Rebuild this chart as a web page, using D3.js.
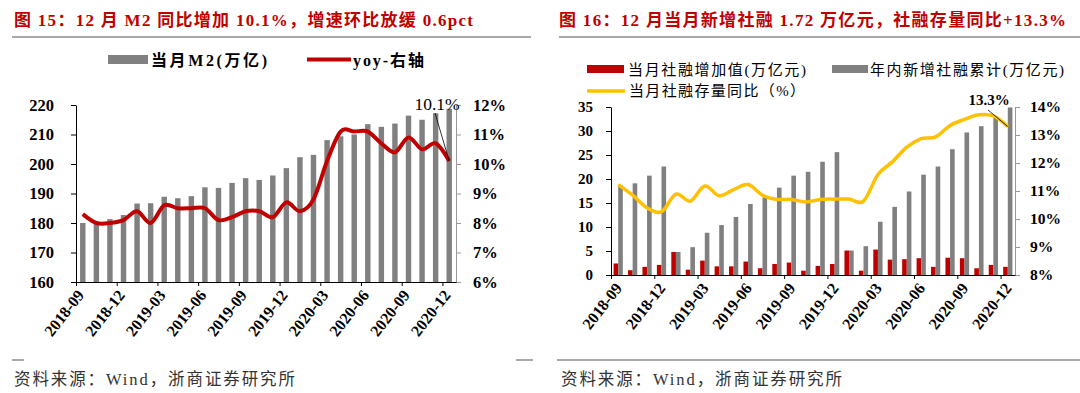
<!DOCTYPE html>
<html lang="zh">
<head>
<meta charset="utf-8">
<title>M2 与社融</title>
<script src="https://cdn.jsdelivr.net/npm/d3@7"></script>
<style>
body { margin: 0; background: #fff; }
svg { display: block; }
.num { font-family: "Liberation Serif", "Noto Sans CJK SC", serif; font-weight: bold; fill: #000; }
.cjk { font-family: "Liberation Serif", "Noto Sans CJK SC", serif; }
</style>
</head>
<body>
<script>
// months on both x axes
var months = ["2018-09","2018-10","2018-11","2018-12","2019-01","2019-02","2019-03","2019-04",
  "2019-05","2019-06","2019-07","2019-08","2019-09","2019-10","2019-11","2019-12",
  "2020-01","2020-02","2020-03","2020-04","2020-05","2020-06","2020-07","2020-08",
  "2020-09","2020-10","2020-11","2020-12"];

// left chart: M2 level (万亿) and yoy (%)
var m2 = [180.0,179.6,181.3,182.7,186.6,186.7,188.9,188.4,189.1,192.1,191.9,193.6,195.2,194.6,
  196.1,198.6,202.3,203.1,208.1,209.4,210.0,213.5,212.6,213.7,216.4,215.0,217.2,218.7];
var m2Yoy = [8.3,8.0,8.0,8.1,8.4,8.0,8.6,8.5,8.5,8.5,8.1,8.2,8.4,8.4,
  8.2,8.7,8.4,8.8,10.1,11.1,11.1,11.1,10.7,10.4,10.9,10.5,10.7,10.1];
var m2Ticks = [160,170,180,190,200,210,220];
var m2YoyTicks = [6,7,8,9,10,11,12];

// right chart: monthly TSF, year-to-date TSF (万亿元), stock yoy (%)
var tsfMonth = [2.4,1.0,1.7,2.1,4.8,1.1,3.0,1.8,1.8,2.8,1.4,2.3,2.6,0.9,
  1.9,2.3,5.1,0.9,5.3,3.2,3.3,3.5,1.7,3.6,3.5,1.4,2.1,1.7];
var tsfCum = [18.7,19.1,20.7,22.6,4.8,5.8,8.8,10.4,12.1,14.8,16.2,18.2,20.7,21.5,
  23.6,25.6,5.1,6.0,11.1,14.2,17.4,20.9,22.6,26.2,29.7,31.0,33.0,34.9];
var tsfYoy = [11.23,10.85,10.4,10.26,10.89,10.64,11.18,10.83,11.05,11.23,10.85,10.7,10.7,10.61,
  10.7,10.71,10.71,10.64,11.59,12.04,12.57,12.87,12.93,13.34,13.56,13.72,13.68,13.3];
var tsfTicks = [0,5,10,15,20,25,30,35];
var tsfYoyTicks = [8,9,10,11,12,13,14];

var red = "#c00000", gray = "#808080", yellow = "#ffc000";

var svg = d3.select("body").append("svg")
  .attr("width", 1080).attr("height", 393);
svg.append("rect").attr("width", 1080).attr("height", 393).attr("fill", "#fff");

// text helper, width forced to match the report layout
function label(x, y, size, str, len, bold, color) {
  var t = svg.append("text").attr("class", "cjk").attr("x", x).attr("y", y)
    .attr("font-size", size).attr("fill", color || "#000").text(str);
  if (bold) t.attr("font-weight", "bold");
  if (len) t.attr("textLength", len).attr("lengthAdjust", "spacing");
  return t;
}

// ---------- titles, rules, footers ----------
label(14, 26, 17, "图 15：12 月 M2 同比增加 10.1%，增速环比放缓 0.6pct", 459, true, red);
label(559, 26, 17, "图 16：12 月当月新增社融 1.72 万亿元，社融存量同比+13.3%", 507, true, red);

svg.append("line").attr("x1", 12).attr("x2", 531).attr("y1", 37).attr("y2", 37)
  .attr("stroke", "#555").attr("stroke-width", 1);
svg.append("line").attr("x1", 559).attr("x2", 1080).attr("y1", 37).attr("y2", 37)
  .attr("stroke", "#555").attr("stroke-width", 1);

svg.append("line").attr("x1", 12).attr("x2", 24).attr("y1", 360).attr("y2", 360).attr("stroke", "#555");
svg.append("line").attr("x1", 516).attr("x2", 533).attr("y1", 360).attr("y2", 360).attr("stroke", "#555");
svg.append("line").attr("x1", 557).attr("x2", 1080).attr("y1", 360).attr("y2", 360).attr("stroke", "#555");

label(14, 385, 16.5, "资料来源：Wind，浙商证券研究所", 281, false, "#333");
label(561, 385, 16.5, "资料来源：Wind，浙商证券研究所", 281, false, "#333");

function styleAxis(g, color) {
  g.select(".domain").attr("stroke", color);
  g.selectAll(".tick line").attr("stroke", color);
  g.selectAll(".tick text").attr("class", "num").attr("fill", "#000");
}

function xLabels(g, dx) {
  g.selectAll(".tick text")
    .attr("class", "num").attr("font-size", 16)
    .attr("text-anchor", "end")
    .attr("transform", "translate(" + dx + ",10) rotate(-52)")
    .attr("dy", "0.35em").attr("y", 0).attr("x", 0);
}

// ---------- left chart ----------
var L = {x0: 76, x1: 456, top: 105, bottom: 282};

var xL = d3.scaleBand().domain(months).range([L.x0, L.x1]).paddingInner(0.6).paddingOuter(0.3);
var xLTick = d3.scaleLinear().domain([0, months.length]).range([L.x0, L.x1]);
var yL = d3.scaleLinear().domain([160, 220]).range([L.bottom, L.top]);
var yL2 = d3.scaleLinear().domain([6, 12]).range([L.bottom, L.top]);

svg.append("g").selectAll("rect").data(m2).enter().append("rect")
  .attr("x", function(d, i) { return xL(months[i]); })
  .attr("y", function(d) { return yL(d); })
  .attr("width", xL.bandwidth())
  .attr("height", function(d) { return L.bottom - yL(d); })
  .attr("fill", gray);

var gyL = svg.append("g").attr("transform", "translate(" + L.x0 + ",0)")
  .call(d3.axisLeft(yL).tickValues(m2Ticks).tickSize(5).tickPadding(17).tickSizeOuter(0));
styleAxis(gyL, "#000");
gyL.selectAll(".tick text").attr("font-size", 16.5);

var gyL2 = svg.append("g").attr("transform", "translate(" + L.x1 + ",0)")
  .call(d3.axisRight(yL2).tickValues(m2YoyTicks).tickFormat(function(d) { return d + "%"; })
    .tickSize(5).tickPadding(12).tickSizeOuter(0));
styleAxis(gyL2, "#999");
gyL2.selectAll(".tick text").attr("font-size", 16.5);

var gxL = svg.append("g").attr("transform", "translate(0," + L.bottom + ")")
  .call(d3.axisBottom(xLTick).tickValues(d3.range(0, months.length, 3))
    .tickFormat(function(i) { return months[i]; }).tickSize(4).tickPadding(2).tickSizeOuter(0));
styleAxis(gxL, "#000");
xLabels(gxL, 4);

var lineL = d3.line()
  .x(function(d, i) { return xL(months[i]) + xL.bandwidth() / 2; })
  .y(function(d) { return yL2(d); })
  .curve(d3.curveCatmullRom.alpha(0));
svg.append("path").datum(m2Yoy).attr("d", lineL)
  .attr("fill", "none").attr("stroke", red).attr("stroke-width", 4).attr("stroke-linejoin", "round");

// annotation for last point
var lastL = m2Yoy.length - 1;
svg.append("line")
  .attr("x1", 435).attr("y1", 113)
  .attr("x2", xL(months[lastL]) + xL.bandwidth() / 2).attr("y2", yL2(m2Yoy[lastL]))
  .attr("stroke", "#000").attr("stroke-width", 0.8);
svg.append("text").attr("x", 437).attr("y", 110).attr("text-anchor", "middle")
  .attr("font-family", "Liberation Serif").attr("font-size", 17.5).attr("fill", "#000")
  .text(m2Yoy[lastL].toFixed(1) + "%");

// legend
svg.append("rect").attr("x", 108).attr("y", 55).attr("width", 40).attr("height", 9).attr("fill", gray);
label(151, 66, 16, "当月M2(万亿)", 116, true);
svg.append("line").attr("x1", 307).attr("x2", 351).attr("y1", 59.5).attr("y2", 59.5)
  .attr("stroke", red).attr("stroke-width", 4);
label(353, 66, 16, "yoy-右轴", 71, true);

// ---------- right chart ----------
var R = {x0: 611, x1: 1015, top: 107, bottom: 275};

var xR = d3.scaleBand().domain(months).range([R.x0, R.x1]).paddingInner(0.36).paddingOuter(0.18);
var xRTick = d3.scaleLinear().domain([0, months.length]).range([R.x0, R.x1]);
var yR = d3.scaleLinear().domain([0, 35]).range([R.bottom, R.top]);
var yR2 = d3.scaleLinear().domain([8, 14]).range([R.bottom, R.top]);
var half = xR.bandwidth() / 2;

svg.append("g").selectAll("rect").data(tsfMonth).enter().append("rect")
  .attr("x", function(d, i) { return xR(months[i]); })
  .attr("y", function(d) { return yR(d); })
  .attr("width", half)
  .attr("height", function(d) { return R.bottom - yR(d); })
  .attr("fill", red);
svg.append("g").selectAll("rect").data(tsfCum).enter().append("rect")
  .attr("x", function(d, i) { return xR(months[i]) + half; })
  .attr("y", function(d) { return yR(d); })
  .attr("width", half)
  .attr("height", function(d) { return R.bottom - yR(d); })
  .attr("fill", gray);

var gyR = svg.append("g").attr("transform", "translate(" + R.x0 + ",0)")
  .call(d3.axisLeft(yR).tickValues(tsfTicks).tickSize(5).tickPadding(13).tickSizeOuter(0));
styleAxis(gyR, "#000");
gyR.selectAll(".tick text").attr("font-size", 15);

var gyR2 = svg.append("g").attr("transform", "translate(" + R.x1 + ",0)")
  .call(d3.axisRight(yR2).tickValues(tsfYoyTicks).tickFormat(function(d) { return d + "%"; })
    .tickSize(5).tickPadding(10).tickSizeOuter(0));
styleAxis(gyR2, "#999");
gyR2.selectAll(".tick text").attr("font-size", 15.5);

var gxR = svg.append("g").attr("transform", "translate(0," + R.bottom + ")")
  .call(d3.axisBottom(xRTick).tickValues(d3.range(0, months.length, 3))
    .tickFormat(function(i) { return months[i]; }).tickSize(4).tickPadding(2).tickSizeOuter(0));
styleAxis(gxR, "#000");
xLabels(gxR, 7);

var lineR = d3.line()
  .x(function(d, i) { return xR(months[i]) + half; })
  .y(function(d) { return yR2(d); })
  .curve(d3.curveCatmullRom.alpha(0));
svg.append("path").datum(tsfYoy).attr("d", lineR)
  .attr("fill", "none").attr("stroke", yellow).attr("stroke-width", 3.5).attr("stroke-linejoin", "round");

var lastR = tsfYoy.length - 1;
svg.append("line")
  .attr("x1", 988).attr("y1", 110)
  .attr("x2", xR(months[lastR]) + half).attr("y2", yR2(tsfYoy[lastR]))
  .attr("stroke", "#000").attr("stroke-width", 0.8);
svg.append("text").attr("class", "num").attr("x", 989).attr("y", 105).attr("text-anchor", "middle")
  .attr("font-size", 15).text(tsfYoy[lastR].toFixed(1) + "%");

// legend
svg.append("rect").attr("x", 587).attr("y", 65).attr("width", 37).attr("height", 8).attr("fill", red);
label(628, 75, 15, "当月社融增加值(万亿元)", 178);
svg.append("rect").attr("x", 832).attr("y", 65).attr("width", 36).attr("height", 8).attr("fill", gray);
label(870, 75, 15, "年内新增社融累计(万亿元)", 194);
svg.append("line").attr("x1", 587).attr("x2", 625).attr("y1", 91).attr("y2", 91)
  .attr("stroke", yellow).attr("stroke-width", 3.5);
label(629, 96, 15, "当月社融存量同比（%）", 176);
</script>
</body>
</html>
